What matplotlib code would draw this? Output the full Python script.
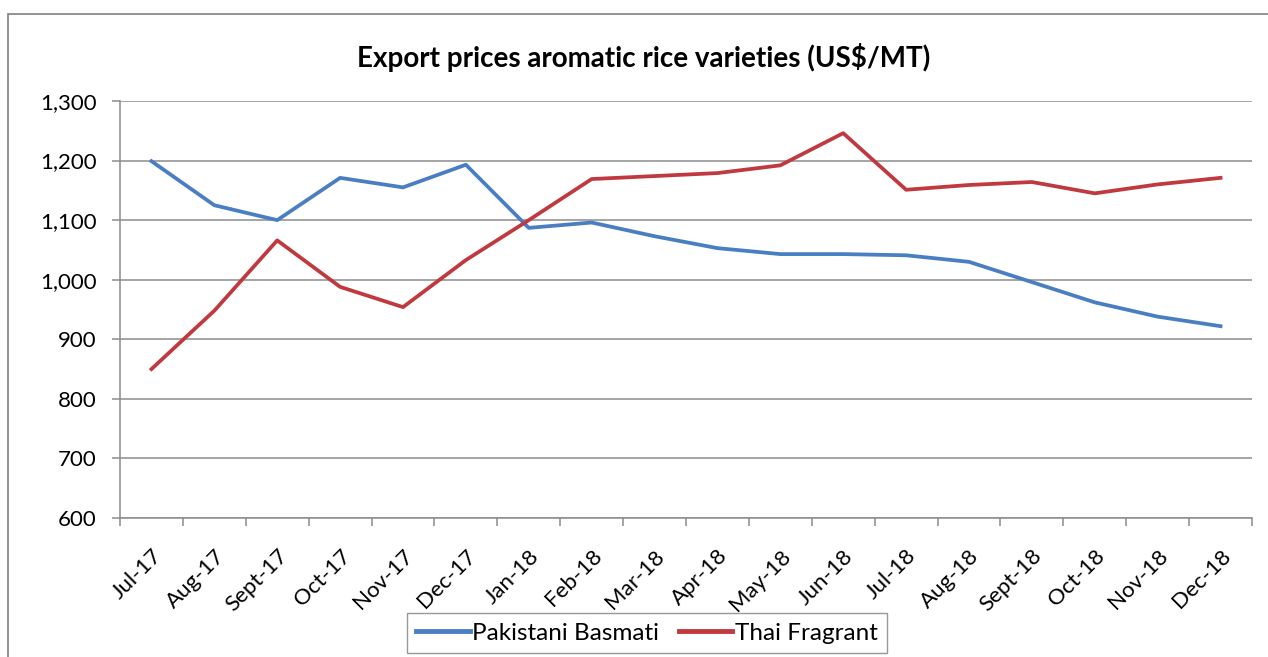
import numpy as np
import matplotlib.pyplot as plt
from matplotlib.patches import Rectangle
from matplotlib.ticker import FuncFormatter

months = ['Jul-17', 'Aug-17', 'Sept-17', 'Oct-17', 'Nov-17', 'Dec-17',
          'Jan-18', 'Feb-18', 'Mar-18', 'Apr-18', 'May-18', 'Jun-18',
          'Jul-18', 'Aug-18', 'Sept-18', 'Oct-18', 'Nov-18', 'Dec-18']
basmati = [1199, 1125, 1100, 1171, 1155, 1193, 1087, 1096, 1073, 1053,
           1043, 1043, 1041, 1030, 996, 962, 938, 922]
fragrant = [850, 948, 1066, 988, 954, 1033, 1100, 1169, 1174, 1179,
            1192, 1246, 1151, 1159, 1164, 1145, 1160, 1171]
yTicks = [600, 700, 800, 900, 1000, 1100, 1200, 1300]

FONT = 'Lato'
GRID = '#8c8c8c'

def drawFrame(fig):
    #grey border round the whole chart area (runs off the right and bottom)
    fig.patches.append(Rectangle((8/1268., -0.01), 1.0, 1 - 14/657. + 0.01,
                                 transform=fig.transFigure, fill=False,
                                 ec='#808080', lw=1.2))

def styleAxes(ax):
    ax.set_xlim(-0.5, len(months) - 0.5)
    ax.set_ylim(yTicks[0], yTicks[-1])
    ax.set_yticks(yTicks)
    ax.yaxis.set_major_formatter(FuncFormatter(lambda v, p: '{:,.0f}'.format(v)))
    ax.grid(axis='y', color=GRID, lw=1.1)
    ax.set_axisbelow(True)
    for s in ['top', 'right']:
        ax.spines[s].set_visible(False)
    for s in ['left', 'bottom']:
        ax.spines[s].set_color(GRID)
        ax.spines[s].set_linewidth(1.1)
    x = np.arange(len(months))
    ax.set_xticks(x)
    ax.set_xticklabels(months, rotation=45, ha='right', rotation_mode='anchor',
                       fontsize=16, family=FONT)
    ax.set_xticks(np.arange(len(months) + 1) - 0.5, minor=True)
    ax.tick_params(axis='x', which='major', length=0, pad=20)
    ax.tick_params(axis='x', which='minor', length=6, color=GRID, width=1.1)
    ax.tick_params(axis='y', length=6, color=GRID, width=1.1, labelsize=16, pad=11)
    for t in ax.get_yticklabels():
        t.set_family(FONT)

if __name__ == '__main__':
    fig = plt.figure(figsize=(12.68, 6.57), dpi=100)
    ax = fig.add_axes([120/1268., 1 - 518/657., 1132/1268., 417/657.])
    x = np.arange(len(months))
    ax.plot(x, basmati, color='#4A7EC2', lw=2.7, label='Pakistani Basmati')
    ax.plot(x, fragrant, color='#C0393F', lw=2.7, label='Thai Fragrant')
    styleAxes(ax)
    fig.text(644/1268., 1 - 57/657., 'Export prices aromatic rice varieties (US$/MT)',
             ha='center', va='center', fontsize=20, fontweight='bold', family=FONT)
    leg = ax.legend(loc='upper center', bbox_to_anchor=(647/1268., 1 - 613/657.),
                    bbox_transform=fig.transFigure, ncol=2, frameon=True,
                    fancybox=False, prop={'family': FONT, 'size': 17.5},
                    handlelength=2.2, handletextpad=0.1, columnspacing=0.8,
                    borderpad=0.4, borderaxespad=0)
    leg.get_frame().set_edgecolor('#7f7f7f')
    leg.get_frame().set_linewidth(1.0)
    for h in leg.get_lines():
        h.set_linewidth(3.5)
    drawFrame(fig)
    plt.savefig('out.png', dpi=100)
